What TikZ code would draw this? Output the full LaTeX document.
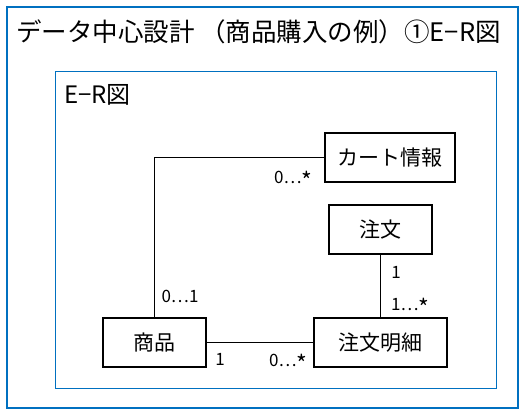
\documentclass[tikz,border=0pt]{standalone}
\usepackage{fontspec}
\setmainfont{Noto Sans CJK JP}
\usepackage{tikz}
\usetikzlibrary{positioning}
\definecolor{frameblue}{HTML}{0070C0}
\newcommand{\manystar}{\raisebox{-0.34em}{\fontsize{23}{23}\selectfont *}}
\tikzset{
  entity/.style={draw, line width=1.8pt, minimum height=49pt, inner sep=0pt, font=\fontsize{21}{21}\selectfont},
  mult/.style={inner sep=0pt, font=\fontsize{17}{17}\selectfont},
  link/.style={line width=1.8pt}
}

\begin{document}
\begin{tikzpicture}[x=1pt, y=-1pt]
			\useasboundingbox (0,0) rectangle (528,412);
			% frames
			\draw[frameblue, line width=2.5pt] (7,7) rectangle (518,408);
			\draw[frameblue, line width=1pt] (55,72) rectangle (496,388);
			\node[anchor=west, inner sep=0pt, font=\fontsize{25.5}{25.5}\selectfont] (title) at (16,32) {データ中心設計 （商品購入の例）①E−R図};
			\node[anchor=west, inner sep=0pt, font=\fontsize{24}{24}\selectfont] (er) at (64,95) {E−R図};
			% entities
			\node[entity, minimum width=130pt] (cart) at (390,157.5) {カート情報};
			\node[entity, minimum width=103pt] (order) at (380.5,229.5) {注文};
			\node[entity, minimum width=103pt] (item) at (154.5,342.5) {商品};
			\node[entity, minimum width=133pt] (detail) at (380.5,342.5) {注文明細};
			% relations
			\draw[link] (item.north) |- (cart.west);
			\draw[link] (order.south) -- (detail.north);
			\draw[link] (item.east) -- (detail.west);
			% multiplicities
			\node[mult, anchor=west] (m1) at (274,180) {0…\manystar};
			\node[mult] (m2) at (180,296) {0…1};
			\node[mult] (m3) at (396,272) {1};
			\node[mult, anchor=west] (m4) at (391,307) {1…\manystar};
			\node[mult] (m5) at (220,359) {1};
			\node[mult, anchor=west] (m6) at (269,363) {0…\manystar};
		\end{tikzpicture}
\end{document}
